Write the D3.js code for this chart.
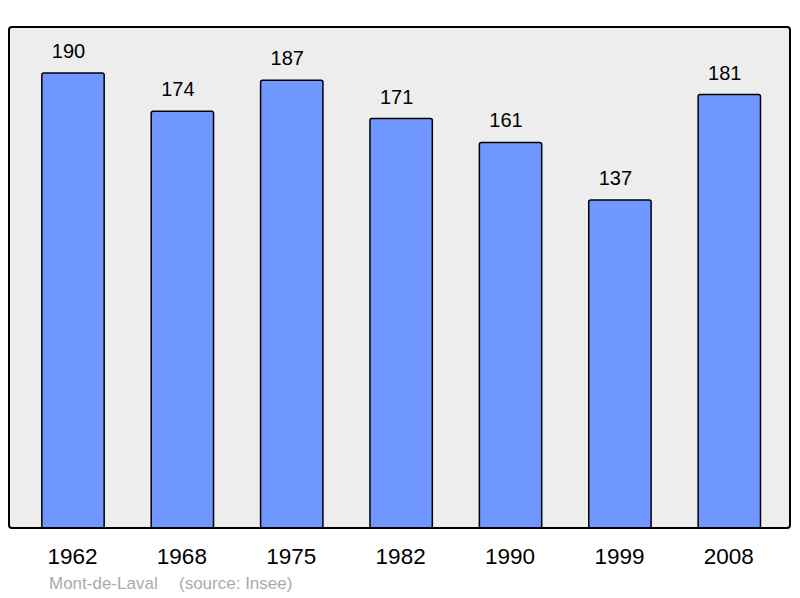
<!DOCTYPE html>
<html>
<head>
<meta charset="utf-8">
<script src="https://cdn.jsdelivr.net/npm/d3@7"></script>
<style>
  body { margin: 0; background: #fff; }
  text { font-family: "Liberation Sans", Arial, sans-serif; }
</style>
</head>
<body>
<svg id="chart" width="800" height="598"></svg>
<script>
// data
const years = ['1962', '1968', '1975', '1982', '1990', '1999', '2008']
const population = [190, 174, 187, 171, 161, 137, 181]
const place = 'Mont-de-Laval'
const source = '(source: Insee)'

const svg = d3.select('#chart')

const panel = { left: 9, top: 27, right: 790, bottom: 528 }

// background panel
svg.append('rect')
  .attr('x', panel.left)
  .attr('y', panel.top)
  .attr('width', panel.right - panel.left)
  .attr('height', panel.bottom - panel.top)
  .attr('rx', 3)
  .attr('fill', '#ededed')

const x = d3.scaleBand()
  .domain(years)
  .range([18.3, 784])
  .paddingInner(0.43)
  .paddingOuter(0.215)

const y = d3.scaleLinear()
  .domain([0, 190])
  .range([panel.bottom, 73])

// bars
svg.selectAll('.bar')
  .data(population)
  .join('rect')
  .attr('class', 'bar')
  .attr('x', (d, i) => x(years[i]))
  .attr('y', d => y(d))
  .attr('width', x.bandwidth())
  .attr('height', d => panel.bottom - y(d))
  .attr('rx', 2)
  .attr('fill', '#7097ff')
  .attr('stroke', '#000')
  .attr('stroke-width', 1.5)

// value labels
svg.selectAll('.val')
  .data(population)
  .join('text')
  .attr('class', 'val')
  .attr('x', (d, i) => x(years[i]) + x.bandwidth() / 2 - 4.5)
  .attr('y', d => y(d) - 15)
  .attr('text-anchor', 'middle')
  .attr('font-size', 20)
  .text(d => d)

// panel border on top
svg.append('rect')
  .attr('x', panel.left)
  .attr('y', panel.top)
  .attr('width', panel.right - panel.left)
  .attr('height', panel.bottom - panel.top)
  .attr('rx', 3)
  .attr('fill', 'none')
  .attr('stroke', '#000')
  .attr('stroke-width', 2)

// year labels
svg.selectAll('.year')
  .data(years)
  .join('text')
  .attr('class', 'year')
  .attr('x', d => x(d) + x.bandwidth() / 2 - 0.5)
  .attr('y', 564)
  .attr('text-anchor', 'middle')
  .attr('font-size', 22.5)
  .text(d => d)

svg.append('text')
  .attr('x', 49)
  .attr('y', 589)
  .attr('font-size', 17)
  .attr('fill', '#aaaaaa')
  .text(place)

svg.append('text')
  .attr('x', 179)
  .attr('y', 589)
  .attr('font-size', 17)
  .attr('fill', '#aaaaaa')
  .text(source)
</script>
</body>
</html>
